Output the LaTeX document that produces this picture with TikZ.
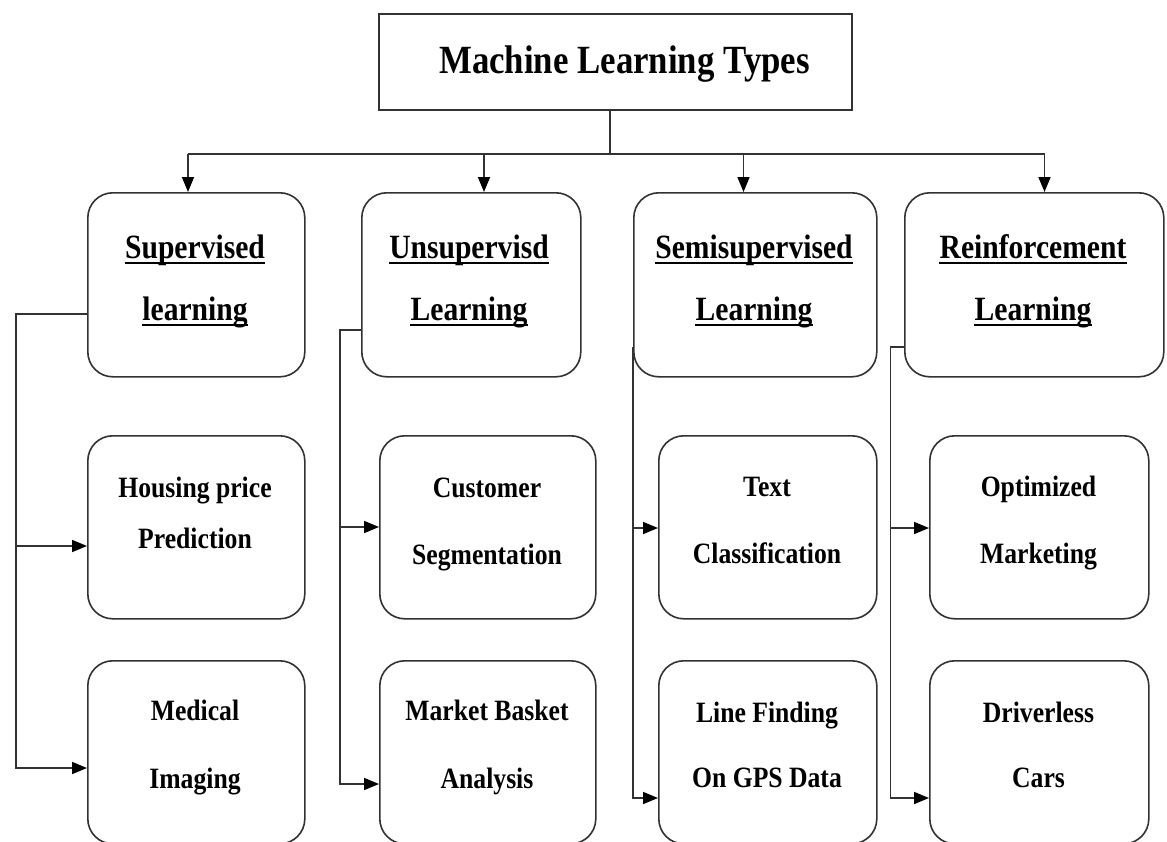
\documentclass[tikz,border=0pt]{standalone}
\usepackage{fontspec}
\setmainfont{Liberation Serif}[FakeStretch=0.87]
\usetikzlibrary{arrows.meta}
\definecolor{ln}{RGB}{50,50,50}
\tikzset{
  rbox/.style={draw=ln, line width=1.6pt, rounded corners=25pt, anchor=north west, inner sep=0pt},
  tbox/.style={draw=ln, line width=1.6pt, anchor=north west, inner sep=0pt},
  conn/.style={draw=ln, line width=1.6pt},
  arr/.style={conn, -{Triangle[length=15pt,width=12pt,color=black]}},
  lab/.style={anchor=base, inner sep=0pt, font=\bfseries\fontsize{29.5}{30}\selectfont},
  head/.style={anchor=base, inner sep=0pt, font=\bfseries\fontsize{34}{36}\selectfont},
  ttl/.style={anchor=base, inner sep=0pt, font=\bfseries\fontsize{40}{40}\selectfont},
  uline/.style={draw=black, line width=2pt},
}
\begin{document}
\begin{tikzpicture}[x=1pt,y=-1pt]
\fill[white] (0,0) rectangle (1167,841);
\useasboundingbox (0,0) rectangle (1167,841);
\clip (0,0) rectangle (1167,841);

% title
\node[tbox, minimum width=473pt, minimum height=96pt] (title) at (378,13) {};
\node[ttl] (title-t) at (624.5,73) {Machine Learning Types};

% top row
\node[rbox, minimum width=217pt, minimum height=184pt] (sup) at (87,192) {};
\node[rbox, minimum width=219pt, minimum height=184pt] (uns) at (361,192) {};
\node[rbox, minimum width=243pt, minimum height=184pt] (semi) at (633,192) {};
\node[rbox, minimum width=259pt, minimum height=184pt] (reinf) at (904,192) {};

\node[head] (sup-a) at (195,258) {Supervised};
\node[head] (sup-b) at (195,320) {learning};
\node[head] (uns-a) at (469,258) {Unsupervisd};
\node[head] (uns-b) at (469,320) {Learning};
\node[head] (semi-a) at (754,258) {Semisupervised};
\node[head] (semi-b) at (754,320) {Learning};
\node[head] (reinf-a) at (1033,258) {Reinforcement};
\node[head] (reinf-b) at (1033,320) {Learning};
\foreach \n in {sup-a,sup-b,uns-a,uns-b,semi-a,semi-b,reinf-a,reinf-b}{
  \draw[uline] ([yshift=-5pt]\n.base west) -- ([yshift=-5pt]\n.base east);
}

% middle row
\node[rbox, minimum width=217pt, minimum height=183pt] (hous) at (87,435) {};
\node[rbox, minimum width=216pt, minimum height=183pt] (cust) at (379,435) {};
\node[rbox, minimum width=218pt, minimum height=183pt] (txt) at (658,435) {};
\node[rbox, minimum width=219pt, minimum height=183pt] (opt) at (929,435) {};

\node[lab] (hous-a) at (195,497) {Housing price};
\node[lab] (hous-b) at (195,548) {Prediction};
\node[lab] (cust-a) at (487,497) {Customer};
\node[lab] (cust-b) at (487,564) {Segmentation};
\node[lab] (txt-a) at (767,496) {Text};
\node[lab] (txt-b) at (767,563) {Classification};
\node[lab] (opt-a) at (1038.5,496) {Optimized};
\node[lab] (opt-b) at (1038.5,563) {Marketing};

% bottom row
\node[rbox, minimum width=217pt, minimum height=183pt] (med) at (87,660) {};
\node[rbox, minimum width=216pt, minimum height=183pt] (mkt) at (379,660) {};
\node[rbox, minimum width=218pt, minimum height=183pt] (gps) at (658,660) {};
\node[rbox, minimum width=219pt, minimum height=183pt] (drv) at (929,660) {};

\node[lab] (med-a) at (195,720) {Medical};
\node[lab] (med-b) at (195,788) {Imaging};
\node[lab] (mkt-a) at (487,720) {Market Basket};
\node[lab] (mkt-b) at (487,788) {Analysis};
\node[lab] (gps-a) at (767,722) {Line Finding};
\node[lab] (gps-b) at (767,787) {On GPS Data};
\node[lab] (drv-a) at (1038.5,722) {Driverless};
\node[lab] (drv-b) at (1038.5,787) {Cars};

% top connectors
\coordinate (hub) at (610,154);
\coordinate (ta) at (188,154);
\coordinate (tb) at (484,154);
\coordinate (tc) at (743.5,154);
\coordinate (td) at (1044.5,154);
\draw[conn] (hub |- title.south) -- (hub);
\draw[conn] (ta) -- (td);
\draw[arr] (ta) -- (ta |- sup.north);
\draw[arr] (tb) -- (tb |- uns.north);
\draw[arr] (tc) -- (tc |- semi.north);
\draw[arr] (td) -- (td |- reinf.north);

% supervised branch
\coordinate (sa) at (16,314);
\draw[arr] (sup.west |- sa) -- (sa) |- (med.west |- 0,768);
\draw[arr] (sa |- 0,546) -- (hous.west |- 0,546);

% unsupervised branch
\coordinate (ua) at (340,330);
\draw[arr] (uns.west |- ua) -- (ua) |- (mkt.west |- 0,784);
\draw[arr] (ua |- 0,527) -- (cust.west |- 0,527);

% semisupervised branch
\coordinate (ca) at (633,347);
\draw[arr] (semi.west |- ca) |- (gps.west |- 0,798);
\draw[arr] (ca |- 0,528) -- (txt.west |- 0,528);

% reinforcement branch
\coordinate (ra) at (890.5,347);
\draw[arr] (reinf.west |- ra) -- (ra) |- (drv.west |- 0,798);
\draw[arr] (ra |- 0,528) -- (opt.west |- 0,528);
\end{tikzpicture}
\end{document}
